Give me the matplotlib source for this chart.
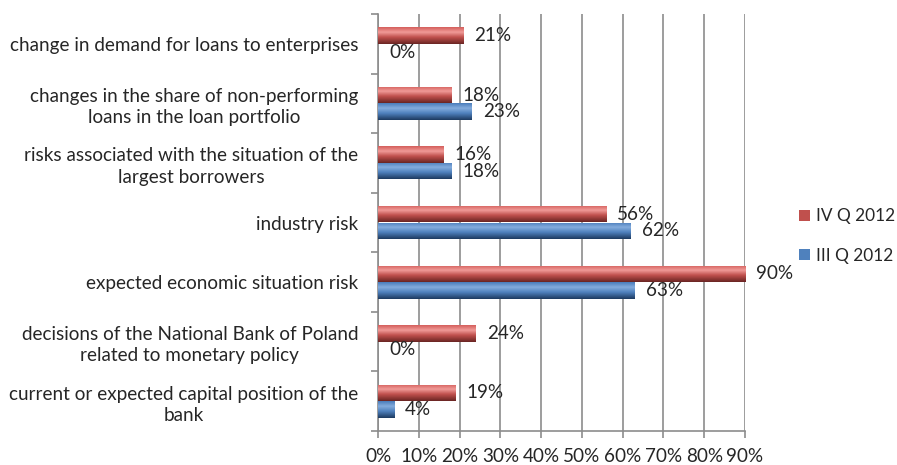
import numpy as np
import matplotlib
matplotlib.use('Agg')
import matplotlib.pyplot as plt
import matplotlib.transforms as mtrans
from matplotlib.patches import Patch
from matplotlib.colors import LinearSegmentedColormap

# Data (top to bottom as in the chart)
categories = [
    'change in demand for loans to enterprises',
    'changes in the share of non-performing\nloans in the loan portfolio',
    'risks associated with the situation of the\nlargest borrowers',
    'industry risk',
    'expected economic situation risk',
    'decisions of the National Bank of Poland\nrelated to monetary policy',
    'current or expected capital position of the\nbank',
]
iv_q_2012 = [21, 18, 16, 56, 90, 24, 19]
iii_q_2012 = [0, 23, 18, 62, 63, 0, 4]
series_names = ['IV Q 2012', 'III Q 2012']
x_ticks = list(range(0, 100, 10))

RED = '#c0504d'
BLUE = '#4f81bd'
TEXT = '#262626'
GRID = '#8c8c8c'
FS = 13.6

plt.rcParams['font.family'] = ['Lato', 'DejaVu Sans']

red_map = LinearSegmentedColormap.from_list(
    'red', [(0, '#d45f5c'), (0.3, '#f09a97'), (0.6, '#c0504d'), (1, '#6a2523')])
blue_map = LinearSegmentedColormap.from_list(
    'blue', [(0, '#4a7dbb'), (0.3, '#84acdd'), (0.6, '#4f81bd'), (1, '#1d3a60')])
grad = np.linspace(0, 1, 64).reshape(-1, 1)

fig = plt.figure(figsize=(8.97, 4.65), dpi=100)
ax = fig.add_axes([378 / 897, 1 - 431 / 465, (745 - 378) / 897, (431 - 14) / 465])

n = len(categories)
ypos = np.arange(n)[::-1]
h = 0.278

bars_iv = ax.barh(ypos + h / 2, iv_q_2012, height=h, color=RED, zorder=2)
bars_iii = ax.barh(ypos - h / 2, iii_q_2012, height=h, color=BLUE, zorder=2)

# gradient fill clipped to each bar
for bars, cmap in ((bars_iv, red_map), (bars_iii, blue_map)):
    for b in bars:
        w = b.get_width()
        if w <= 0:
            continue
        x0, y0 = b.get_x(), b.get_y()
        im = ax.imshow(grad, cmap=cmap, aspect='auto', origin='upper',
                       extent=(x0, x0 + w, y0, y0 + b.get_height()), zorder=3)
        im.set_clip_path(b)

# data labels
for bars, vals in ((bars_iv, iv_q_2012), (bars_iii, iii_q_2012)):
    for b, v in zip(bars, vals):
        ax.annotate(f'{v}%', xy=(v, b.get_y() + b.get_height() / 2),
                    xytext=(11, 0), textcoords='offset pixels',
                    ha='left', va='center', fontsize=FS, color=TEXT, zorder=4)

ax.set_xlim(0, 90)
ax.set_ylim(-0.5, n - 0.5)

ax.set_xticks(x_ticks)
ax.set_xticklabels([f'{t}%' for t in x_ticks], fontsize=FS, color=TEXT)
ax.tick_params(axis='x', direction='out', length=5, width=1.2, color=GRID, pad=7)

ax.set_yticks(ypos)
ax.set_yticklabels(categories, fontsize=FS, color=TEXT, ha='center', linespacing=1.3)
ax.tick_params(axis='y', which='major', length=0, pad=0)
ax.set_yticks(np.arange(n + 1) - 0.5, minor=True)
ax.tick_params(axis='y', which='minor', direction='out', length=5, width=1.2, color=GRID)

ax.grid(axis='x', color=GRID, linewidth=1.2, zorder=0)
ax.set_axisbelow(True)
for s in ('top', 'right'):
    ax.spines[s].set_visible(False)
for s in ('left', 'bottom'):
    ax.spines[s].set_color(GRID)
    ax.spines[s].set_linewidth(1.2)

handles = [Patch(facecolor=RED, edgecolor='none'), Patch(facecolor=BLUE, edgecolor='none')]
fig.legend(handles, series_names, loc='center left', bbox_to_anchor=(796 / 897, 1 - 236 / 465),
           frameon=False, fontsize=12.4, handlelength=0.6, handleheight=0.6,
           handletextpad=0.35, labelspacing=1.35, labelcolor=TEXT, borderaxespad=0,
           borderpad=0.2)

# centred multi-line category labels whose right edge sits at x = 358 px
fig.canvas.draw()
renderer = fig.canvas.get_renderer()
right_px = 358
for lab in ax.get_yticklabels():
    width = lab.get_window_extent(renderer).width
    lab.set_transform(mtrans.blended_transform_factory(
        mtrans.IdentityTransform(), ax.transData))
    lab.set_x(right_px - width / 2)

fig.savefig('out.png', dpi=100)
